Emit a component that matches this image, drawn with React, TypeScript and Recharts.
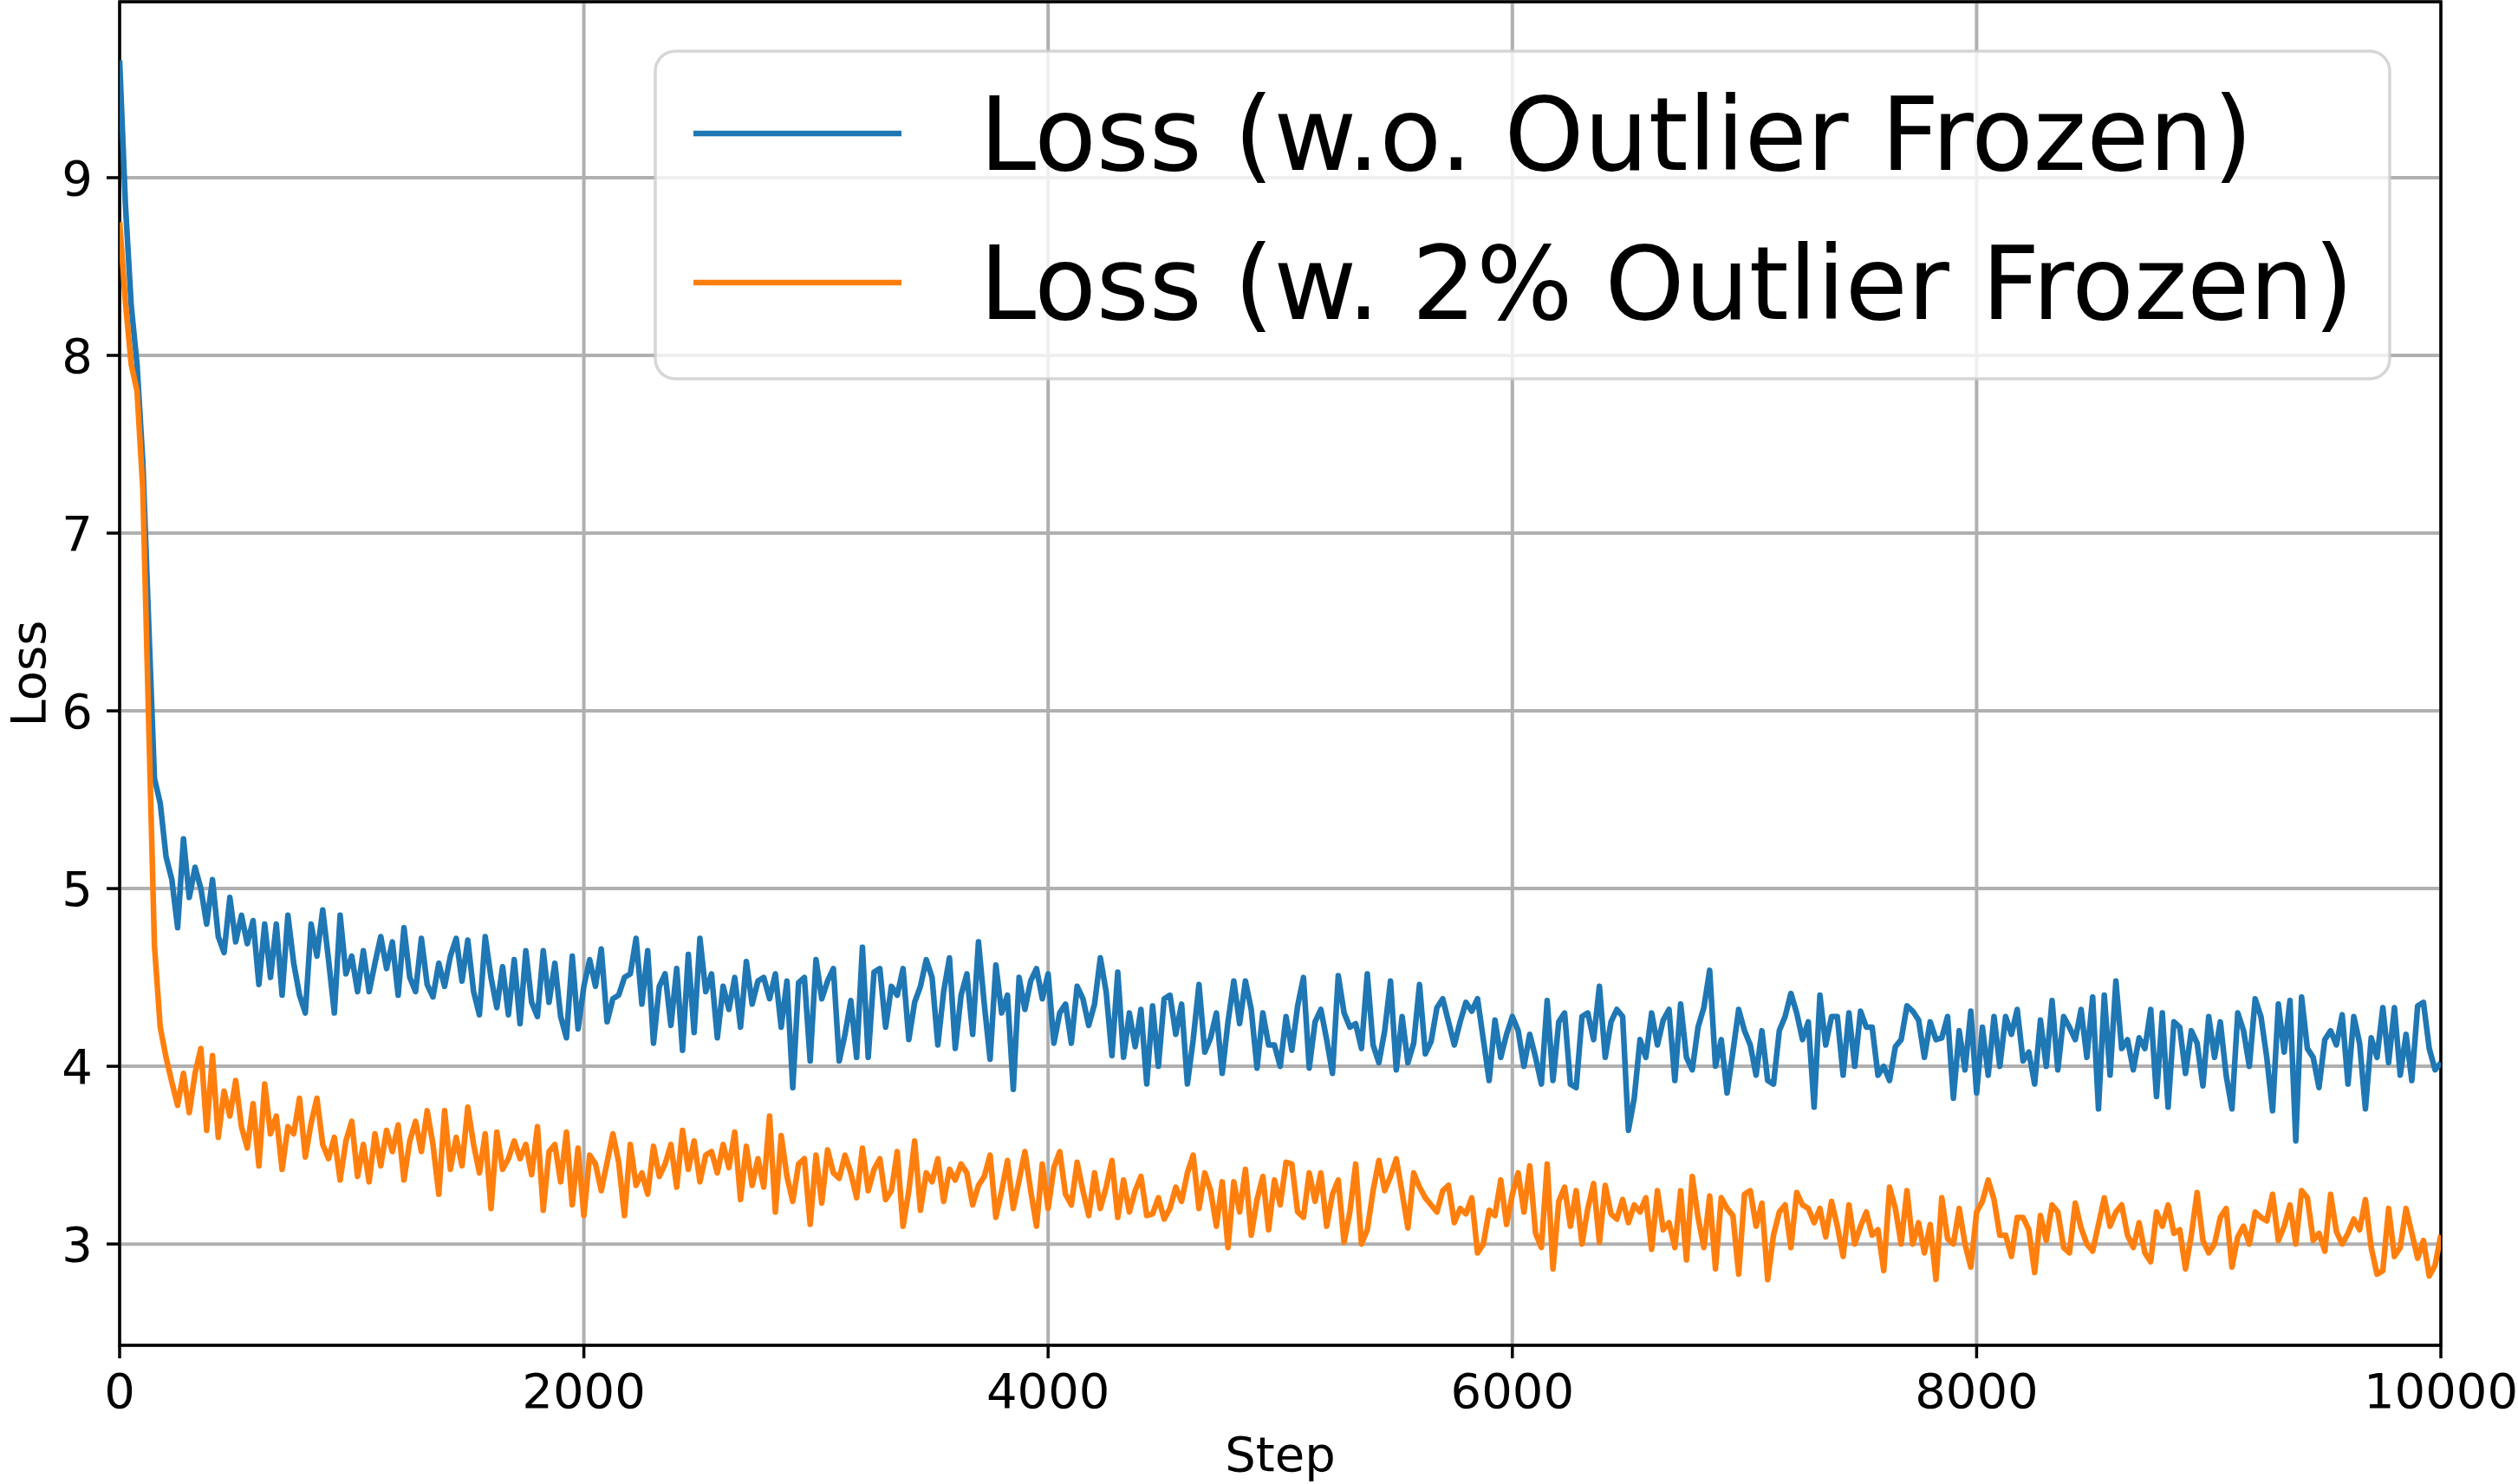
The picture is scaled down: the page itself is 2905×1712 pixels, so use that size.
import { LineChart, Line, XAxis, YAxis, CartesianGrid, ReferenceArea } from "recharts"

const WIDTH = 2905
const HEIGHT = 1712
const FONT = '"DejaVu Sans", sans-serif'

// one logged point every 25 training steps
const STEP_INTERVAL = 25
const stepTicks = [0, 2000, 4000, 6000, 8000, 10000]
const lossTicks = [3, 4, 5, 6, 7, 8, 9]
const lossDomain: [number, number] = [2.43, 9.99]

// loss without freezing outliers
const baseline0k = [
  9.66, 8.85, 8.28, 7.95, 7.40, 6.50, 5.62, 5.48, 5.18, 5.05,
  4.78, 5.28, 4.95, 5.12, 5.00, 4.80, 5.05, 4.73, 4.64, 4.95,
  4.70, 4.85, 4.69, 4.82, 4.46, 4.80, 4.50, 4.80, 4.40, 4.85,
  4.58, 4.40, 4.30, 4.80, 4.62, 4.88, 4.60, 4.30, 4.85, 4.52,
  4.62, 4.42, 4.65, 4.42, 4.58, 4.73, 4.55, 4.70, 4.40, 4.78,
  4.50, 4.42, 4.72, 4.46, 4.39, 4.58, 4.45, 4.62, 4.72, 4.48,
  4.71, 4.42, 4.29, 4.73, 4.50, 4.33, 4.56, 4.29, 4.60, 4.24,
  4.65, 4.36, 4.28, 4.65, 4.36, 4.58, 4.28, 4.16, 4.62, 4.21,
  4.45,
]
const baseline2k = [
  4.60, 4.45, 4.66, 4.25, 4.38, 4.40, 4.50, 4.52, 4.72, 4.35,
  4.65, 4.13, 4.45, 4.52, 4.23, 4.55, 4.09, 4.63, 4.19, 4.72,
  4.42, 4.52, 4.16, 4.45, 4.32, 4.50, 4.22, 4.59, 4.35, 4.48,
  4.50, 4.38, 4.52, 4.22, 4.48, 3.88, 4.47, 4.50, 4.03, 4.60,
  4.38, 4.48, 4.55, 4.03, 4.18, 4.37, 4.05, 4.67, 4.05, 4.53,
  4.55, 4.22, 4.45, 4.40, 4.55, 4.15, 4.36, 4.45, 4.60, 4.50,
  4.12, 4.42, 4.61, 4.10, 4.40, 4.52, 4.18, 4.70, 4.35, 4.04,
  4.57, 4.30, 4.40, 3.87, 4.50, 4.32, 4.48, 4.55, 4.38, 4.52,
]
const baseline4k = [
  4.13, 4.30, 4.35, 4.13, 4.45, 4.38, 4.23, 4.35, 4.61, 4.42,
  4.06, 4.53, 4.05, 4.30, 4.11, 4.32, 3.90, 4.34, 4.00, 4.38,
  4.40, 4.18, 4.35, 3.90, 4.15, 4.46, 4.08, 4.16, 4.30, 3.96,
  4.25, 4.48, 4.24, 4.48, 4.32, 3.99, 4.30, 4.12, 4.12, 4.00,
  4.28, 4.09, 4.34, 4.50, 3.99, 4.25, 4.32, 4.15, 3.96, 4.51,
  4.30, 4.22, 4.24, 4.10, 4.52, 4.12, 4.02, 4.20, 4.48, 3.98,
  4.28, 4.02, 4.13, 4.46, 4.07, 4.14, 4.33, 4.38, 4.25, 4.12,
  4.25, 4.36, 4.31, 4.38, 4.15, 3.92, 4.26, 4.05, 4.18, 4.28,
]
const baseline6k = [
  4.20, 4.00, 4.18, 4.05, 3.90, 4.37, 3.92, 4.25, 4.30, 3.90,
  3.88, 4.28, 4.30, 4.15, 4.45, 4.05, 4.25, 4.32, 4.28, 3.64,
  3.82, 4.15, 4.05, 4.30, 4.12, 4.26, 4.32, 3.92, 4.35, 4.05,
  3.98, 4.22, 4.33, 4.54, 4.00, 4.15, 3.85, 4.08, 4.32, 4.20,
  4.12, 3.95, 4.20, 3.92, 3.90, 4.20, 4.28, 4.41, 4.30, 4.15,
  4.25, 3.77, 4.40, 4.12, 4.28, 4.28, 3.95, 4.30, 4.00, 4.31,
  4.22, 4.22, 3.95, 4.00, 3.92, 4.11, 4.15, 4.34, 4.31, 4.26,
  4.05, 4.25, 4.15, 4.16, 4.28, 3.82, 4.20, 3.98, 4.31, 3.85,
]
const baseline8k = [
  4.22, 3.95, 4.28, 4.00, 4.28, 4.18, 4.32, 4.03, 4.08, 3.90,
  4.26, 4.00, 4.37, 3.98, 4.28, 4.22, 4.15, 4.32, 4.05, 4.39,
  3.76, 4.40, 3.95, 4.48, 4.10, 4.15, 3.98, 4.16, 4.10, 4.32,
  3.83, 4.30, 3.77, 4.25, 4.22, 3.96, 4.20, 4.13, 3.89, 4.28,
  4.05, 4.25, 3.95, 3.76, 4.30, 4.20, 4.00, 4.38, 4.28, 4.05,
  3.75, 4.35, 4.08, 4.37, 3.58, 4.39, 4.10, 4.05, 3.88, 4.15,
  4.20, 4.12, 4.29, 3.90, 4.28, 4.13, 3.76, 4.16, 4.05, 4.33,
  4.02, 4.33, 3.95, 4.18, 3.92, 4.34, 4.36, 4.10, 3.98, 4.02,
]

// loss with 2% of outliers frozen
const frozen0k = [
  8.75, 8.30, 7.95, 7.80, 7.25, 5.95, 4.68, 4.22, 4.05, 3.91,
  3.78, 3.96, 3.74, 3.96, 4.10, 3.64, 4.06, 3.60, 3.86, 3.72,
  3.92, 3.66, 3.54, 3.79, 3.44, 3.90, 3.62, 3.72, 3.42, 3.66,
  3.62, 3.82, 3.49, 3.68, 3.82, 3.56, 3.48, 3.60, 3.36, 3.58,
  3.69, 3.38, 3.56, 3.35, 3.62, 3.44, 3.64, 3.52, 3.67, 3.36,
  3.58, 3.69, 3.52, 3.75, 3.56, 3.28, 3.75, 3.42, 3.60, 3.44,
  3.77, 3.56, 3.40, 3.62, 3.20, 3.63, 3.42, 3.48, 3.58, 3.48,
  3.56, 3.39, 3.66, 3.19, 3.52, 3.56, 3.35, 3.63, 3.22, 3.54,
  3.16,
]
const frozen2k = [
  3.50, 3.45, 3.30, 3.46, 3.62, 3.46, 3.16, 3.56, 3.33, 3.40,
  3.28, 3.55, 3.38, 3.45, 3.56, 3.32, 3.64, 3.42, 3.58, 3.35,
  3.50, 3.52, 3.40, 3.56, 3.43, 3.63, 3.25, 3.55, 3.33, 3.48,
  3.32, 3.72, 3.18, 3.61, 3.38, 3.24, 3.45, 3.48, 3.11, 3.50,
  3.23, 3.53, 3.40, 3.37, 3.50, 3.40, 3.26, 3.54, 3.30, 3.42,
  3.48, 3.25, 3.30, 3.52, 3.10, 3.30, 3.58, 3.19, 3.40, 3.35,
  3.48, 3.24, 3.42, 3.36, 3.45, 3.40, 3.22, 3.33, 3.38, 3.50,
  3.15, 3.30, 3.47, 3.20, 3.36, 3.52, 3.30, 3.10, 3.45, 3.20,
]
const frozen4k = [
  3.43, 3.52, 3.28, 3.22, 3.46, 3.30, 3.16, 3.40, 3.20, 3.32,
  3.47, 3.15, 3.36, 3.18, 3.30, 3.38, 3.16, 3.17, 3.26, 3.14,
  3.20, 3.32, 3.24, 3.40, 3.50, 3.20, 3.40, 3.30, 3.10, 3.35,
  2.98, 3.35, 3.18, 3.42, 3.05, 3.25, 3.38, 3.08, 3.36, 3.22,
  3.46, 3.45, 3.18, 3.15, 3.40, 3.24, 3.40, 3.10, 3.28, 3.36,
  3.01, 3.18, 3.45, 3.00, 3.08, 3.30, 3.47, 3.30, 3.38, 3.48,
  3.29, 3.09, 3.40, 3.32, 3.26, 3.22, 3.18, 3.30, 3.33, 3.12,
  3.20, 3.17, 3.26, 2.95, 3.00, 3.19, 3.16, 3.36, 3.11, 3.28,
]
const frozen6k = [
  3.40, 3.18, 3.44, 3.06, 2.98, 3.45, 2.86, 3.24, 3.32, 3.10,
  3.30, 3.00, 3.20, 3.34, 3.01, 3.33, 3.17, 3.14, 3.25, 3.12,
  3.22, 3.18, 3.26, 2.97, 3.30, 3.08, 3.12, 2.98, 3.30, 2.91,
  3.38, 3.15, 2.98, 3.27, 2.86, 3.26, 3.20, 3.16, 2.83, 3.28,
  3.30, 3.10, 3.23, 2.80, 3.05, 3.18, 3.22, 2.98, 3.29, 3.22,
  3.20, 3.12, 3.20, 3.04, 3.24, 3.10, 2.93, 3.22, 3.00, 3.10,
  3.18, 3.05, 3.08, 2.85, 3.32, 3.20, 3.00, 3.30, 3.00, 3.12,
  2.95, 3.11, 2.80, 3.26, 3.03, 3.00, 3.20, 3.00, 2.87, 3.18,
]
const frozen8k = [
  3.24, 3.36, 3.25, 3.05, 3.05, 2.93, 3.15, 3.15, 3.08, 2.84,
  3.16, 3.02, 3.22, 3.18, 2.98, 2.95, 3.23, 3.09, 3.00, 2.96,
  3.11, 3.26, 3.10, 3.18, 3.22, 3.05, 2.98, 3.12, 2.95, 2.90,
  3.18, 3.10, 3.22, 3.06, 3.08, 2.86, 3.05, 3.29, 3.02, 2.95,
  3.00, 3.15, 3.20, 2.87, 3.04, 3.10, 3.00, 3.18, 3.15, 3.13,
  3.28, 3.02, 3.10, 3.22, 3.00, 3.30, 3.26, 3.02, 3.06, 2.96,
  3.28, 3.07, 3.00, 3.06, 3.14, 3.08, 3.25, 2.98, 2.83, 2.85,
  3.20, 2.93, 2.98, 3.20, 3.06, 2.92, 3.02, 2.82, 2.88, 3.05,
]

const baselineLoss = [...baseline0k, ...baseline2k, ...baseline4k, ...baseline6k, ...baseline8k]
const frozenLoss = [...frozen0k, ...frozen2k, ...frozen4k, ...frozen6k, ...frozen8k]

const rows = baselineLoss.map((v, i) => ({
  step: i * STEP_INTERVAL,
  baseline: v,
  frozen: frozenLoss[i],
}))

const series = [
  { key: "baseline", name: "Loss (w.o. Outlier Frozen)", color: "#1f77b4" },
  { key: "frozen", name: "Loss (w. 2% Outlier Frozen)", color: "#ff7f0e" },
]

const axisTick = { fontSize: 56, fill: "#000", fontFamily: FONT }
const tickLine = { stroke: "#000", strokeWidth: 3.5 }

function LegendBox() {
  return (
    <svg
      width={2006}
      height={382}
      style={{ position: "absolute", left: 754, top: 57, pointerEvents: "none" }}
    >
      <rect
        x={2}
        y={2}
        width={2001}
        height={378}
        rx={23}
        fill="rgba(255,255,255,0.8)"
        stroke="#cccccc"
        strokeOpacity={0.8}
        strokeWidth={3.5}
      />
      {series.map((s, i) => (
        <g key={s.key}>
          <line x1={46} x2={286} y1={97 + i * 172} y2={97 + i * 172} stroke={s.color} strokeWidth={6.5} />
          <text x={376} y={139 + i * 172} fontSize={117} fontFamily={FONT} fill="#000">
            {s.name}
          </text>
        </g>
      ))}
    </svg>
  )
}

export default function App() {
  return (
    <div style={{ position: "absolute", left: 0, top: 0, width: WIDTH, height: HEIGHT, background: "#fff" }}>
      <LineChart width={WIDTH} height={HEIGHT} data={rows} margin={{ top: 2, right: 89, bottom: 0, left: 0 }}>
        <CartesianGrid stroke="#b0b0b0" strokeWidth={4} />
        <XAxis
          dataKey="step"
          type="number"
          domain={[0, 10000]}
          ticks={stepTicks}
          interval={0}
          allowDataOverflow
          height={160}
          axisLine={false}
          tickLine={tickLine}
          tickSize={15}
          tickMargin={17}
          tick={axisTick}
          label={{
            content: () => (
              <text x={1477} y={1697} textAnchor="middle" fontSize={56} fontFamily={FONT} fill="#000">
                Step
              </text>
            ),
          }}
        />
        <YAxis
          type="number"
          domain={lossDomain}
          ticks={lossTicks}
          interval={0}
          allowDataOverflow
          width={138}
          axisLine={false}
          tickLine={tickLine}
          tickSize={15}
          tickMargin={16}
          tick={axisTick}
          label={{
            content: () => (
              <text
                x={52}
                y={777}
                transform="rotate(-90 52 777)"
                textAnchor="middle"
                fontSize={56}
                fontFamily={FONT}
                fill="#000"
              >
                Loss
              </text>
            ),
          }}
        />
        {series.map((s) => (
          <Line
            key={s.key}
            type="linear"
            dataKey={s.key}
            name={s.name}
            stroke={s.color}
            strokeWidth={6.5}
            strokeLinejoin="round"
            dot={false}
            activeDot={false}
            isAnimationActive={false}
          />
        ))}
        <ReferenceArea
          x1={0}
          x2={10000}
          y1={lossDomain[0]}
          y2={lossDomain[1]}
          fill="none"
          stroke="#000"
          strokeWidth={3.5}
          ifOverflow="visible"
        />
      </LineChart>
      <LegendBox />
    </div>
  )
}
